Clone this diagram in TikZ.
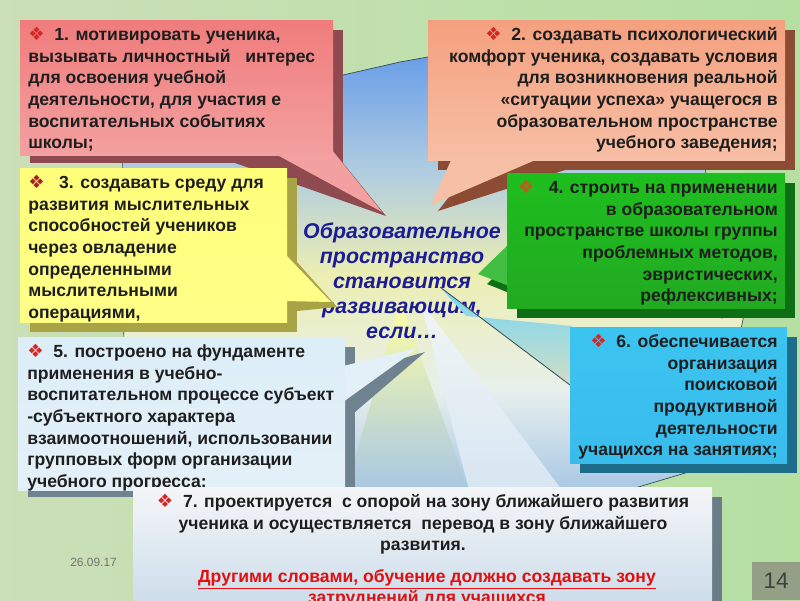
\documentclass[tikz,border=0pt]{standalone}
\usepackage{fontspec}
\setmainfont{Liberation Sans}
\newfontfamily\dvs{DejaVu Sans}
\definecolor{bg}{HTML}{C9DDB4}
\definecolor{txt}{HTML}{1E1E1E}
\definecolor{ptop}{HTML}{F07C7C}\definecolor{pmid}{HTML}{FDECEC}\definecolor{pbot}{HTML}{F3A0A0}\definecolor{psh}{HTML}{8E4A4E}
\definecolor{otop}{HTML}{F4A07E}\definecolor{omid}{HTML}{FDE6DA}\definecolor{obot}{HTML}{F7BFA6}\definecolor{osh}{HTML}{8C4B33}
\definecolor{ytop}{HTML}{FFFF7A}\definecolor{ymid}{HTML}{FFFFD2}\definecolor{ybot}{HTML}{FFFF88}\definecolor{ysh}{HTML}{A8A445}
\definecolor{gtop}{HTML}{1EBE1E}\definecolor{gmid}{HTML}{8EEE8E}\definecolor{gbot}{HTML}{22AA22}\definecolor{gsh}{HTML}{0E6E14}
\definecolor{wtop}{HTML}{DCEEF8}\definecolor{wmid}{HTML}{FFFFFF}\definecolor{wbot}{HTML}{E4F0F8}\definecolor{wsh}{HTML}{6E8290}
\definecolor{ctop}{HTML}{3CC4F0}\definecolor{cmid}{HTML}{E8F8FE}\definecolor{cbot}{HTML}{38BCEC}\definecolor{csh}{HTML}{1C6C8A}
\definecolor{stop}{HTML}{F4F6F8}\definecolor{sbot}{HTML}{CCDCEA}\definecolor{ssh}{HTML}{6A7C88}
\definecolor{sky}{HTML}{6A9FE8}\definecolor{skym}{HTML}{B0CCE0}\definecolor{cyel}{HTML}{ECEEB2}\definecolor{cwh}{HTML}{E8F0EC}\definecolor{cbl}{HTML}{A6C6E4}
\definecolor{centre}{HTML}{1C1C96}
\definecolor{bred}{HTML}{D42828}\definecolor{bbrown}{HTML}{C05A18}
\definecolor{redtxt}{HTML}{E01010}
\definecolor{edge}{HTML}{3A4A5A}
\pgfdeclareverticalshading{centralsh}{100bp}{color(0bp)=(cbl); color(25bp)=(cbl); color(37bp)=(cwh); color(50bp)=(cyel); color(62bp)=(skym); color(75bp)=(sky); color(100bp)=(sky)}
\newcommand{\bul}[1][bred]{{\dvs\fontsize{13}{13}\selectfont\color{#1}❖}\hspace{0.55em}}
\begin{document}
\begin{tikzpicture}[x=0.025cm,y=-0.025cm,
  every node/.style={inner sep=0pt,text=txt},
  boxfont/.style={font=\fontsize{12.5}{15.4}\selectfont\bfseries},
  lbox/.style={boxfont,anchor=north west,align=left},
  rbox/.style={boxfont,anchor=north east,align=right}]
\useasboundingbox (0,0) rectangle (800,600);
\clip (0,0) rectangle (800,600);
% background
\shade[left color=bg!95!white,right color=bg!90!green] (0,0) rectangle (800,600);
% central picture
\shade[shading=centralsh,draw=edge,line width=0.5pt] (122,80) -- (343,75) -- (400,62) -- (428,57) -- (700,120) -- (722,318) -- (745,310) -- (712,465) -- (615,494) -- (125,494) -- cycle;
\shade[top color=yellow!35!white,bottom color=cbl] (400,300) -- (470,494) -- (345,494) -- cycle;
\shade[top color=cwh!60!white,bottom color=cbl!45!white] (420,300) -- (565,494) -- (470,494) -- cycle;
% centre text
\node[font=\fontsize{15.2}{17.8}\selectfont\bfseries\itshape,text=centre,align=center] (centre) at (402,281)
  {Образовательное\\пространство\\становится\\развивающим,\\если…};
% ---- box 1
\fill[psh] (30,30) rectangle (343,163);
\fill[psh] (235,163) -- (343,163) -- (386,216) -- cycle;
\fill[pbot] (268,150) -- (332,150) -- (382,212) -- cycle;
\shade[top color=ptop,middle color=pmid,bottom color=pbot] (20,20) rectangle (333,155);
\node[lbox] (t1) at (28,27) {\bul 1. мотивировать ученика,\\вызывать личностный\ \ \ интерес\\для освоения учебной\\деятельности, для участия е\\воспитательных событиях\\школы;};
% ---- box 2
\fill[osh] (438,30) rectangle (795,170);
\fill[osh] (470,170) -- (565,170) -- (438,211) -- cycle;
\fill[obot] (452,158) -- (540,158) -- (431,205) -- cycle;
\shade[top color=otop,middle color=omid,bottom color=obot] (428,20) rectangle (785,160);
\node[rbox] (t2) at (778,27) {\bul 2. создавать психологический\\комфорт ученика, создавать условия\\для возникновения реальной\\«ситуации успеха» учащегося в\\образовательном пространстве\\учебного заведения;};
% ---- box 3
\fill[ysh] (30,178) rectangle (297,332);
\fill[ysh] (297,262) -- (337,307) -- (297,311) -- cycle;
\fill[ybot] (285,254) -- (331,302) -- (285,301) -- cycle;
\shade[top color=ytop,middle color=ymid,bottom color=ybot] (20,168) rectangle (287,322);
\node[lbox] (t3) at (28,175) {\bul[bred!80!black] 3. создавать среду для\\развития мыслительных\\способностей учеников\\через овладение\\определенными\\мыслительными\\операциями,};
% ---- box 4
\fill[gsh] (517,183) rectangle (795,318);
\fill[gsh] (517,255) -- (487,284) -- (517,296) -- cycle;
\fill[gbot!70!gmid] (509,244) -- (478,274) -- (509,286) -- cycle;
\shade[top color=gtop,middle color=gmid,bottom color=gbot] (507,173) rectangle (785,308);
\node[rbox] (t4) at (778,180) {\bul[bbrown] 4. строить на применении\\в образовательном\\пространстве школы группы\\проблемных методов,\\эвристических,\\рефлексивных;};
% ---- box 6 tail and box 6
\shade[top color=ctop!70!white,bottom color=cyel!60!cbl] (440,287) -- (466,316) -- (572,326) -- (572,386) -- cycle;
\draw[edge,line width=0.6pt] (440,287) -- (570,385);
\fill[csh] (580,337) rectangle (797,473);
\shade[top color=ctop,middle color=cmid,bottom color=cbot] (570,327) rectangle (787,463);
\node[rbox] (t6) at (778,334) {\bul 6. обеспечивается\\организация \\поисковой\\продуктивной\\деятельности\\учащихся на занятиях;};
% ---- box 5
\fill[wsh] (28,347) rectangle (355,497);
\fill[wsh] (355,372) -- (425,352) -- (355,412) -- cycle;
\fill[wbot] (343,366) -- (418,348) -- (343,402) -- cycle;
\shade[top color=wtop,middle color=wmid,bottom color=wbot] (18,337) rectangle (345,490);
\node[lbox] (t5) at (27,344) {\bul 5. построено на фундаменте\\применения в учебно-\\воспитательном процессе субъект\\-субъектного характера\\взаимоотношений, использовании\\групповых форм организации\\учебного прогресса:};
% ---- box 7
\fill[ssh] (143,497) rectangle (722,610);
\shade[top color=stop,bottom color=sbot] (133,487) rectangle (712,605);
\node[boxfont,anchor=north,align=center] (t7) at (423,494) {\bul 7. проектируется\ \ с опорой на зону ближайшего развития\\ученика и осуществляется\ \ перевод в зону ближайшего\\развития.};
\node[boxfont,anchor=north,align=center,text=redtxt] (t7b) at (427,569) {\underline{Другими словами, обучение должно создавать зону}\\\underline{затруднений для учащихся}};
% ---- footer
\node[font=\fontsize{8.5}{10}\selectfont,text=black!55,anchor=west] (date) at (70,562) {26.09.17};
\fill[black!25!bg!85!gray] (752,562) rectangle (800,600);
\node[font=\fontsize{16}{16}\selectfont,text=black!75] (num) at (776,581) {14};
\end{tikzpicture}
\end{document}
